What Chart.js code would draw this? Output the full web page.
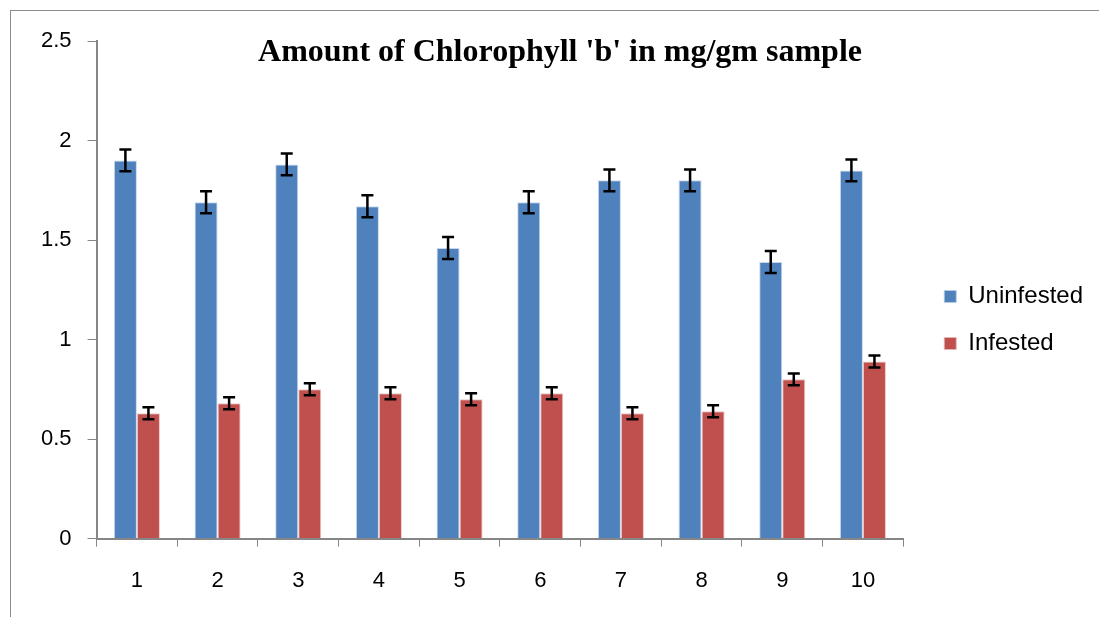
<!DOCTYPE html>
<html>
<head>
<meta charset="utf-8">
<script src="https://cdn.jsdelivr.net/npm/chart.js@4.4.1/dist/chart.umd.min.js"></script>
<style>
  html, body { margin: 0; padding: 0; background: #fff; }
  #wrap { width: 1099px; height: 617px; position: relative; }
</style>
</head>
<body>
<div id="wrap"><canvas id="chart" width="1099" height="617"></canvas></div>
<script>
// chart data
const categories = ['1', '2', '3', '4', '5', '6', '7', '8', '9', '10'];
const uninfested = [1.90, 1.69, 1.88, 1.67, 1.46, 1.69, 1.80, 1.80, 1.39, 1.85];
const infested = [0.63, 0.68, 0.75, 0.73, 0.70, 0.73, 0.63, 0.64, 0.80, 0.89];
const uninfestedErr = [0.055, 0.055, 0.055, 0.055, 0.055, 0.055, 0.055, 0.055, 0.055, 0.055];
const infestedErr = [0.03, 0.03, 0.03, 0.03, 0.03, 0.03, 0.03, 0.03, 0.03, 0.03];
const yTicks = [0, 0.5, 1, 1.5, 2, 2.5];

const AXIS_GRAY = '#868686';
const SANS = '"Liberation Sans", Arial, sans-serif';

// outer frame of the chart object
const framePlugin = {
    id: 'frame',
    beforeDraw(chart) {
        const ctx = chart.ctx;
        ctx.save();
        ctx.fillStyle = '#fff';
        ctx.fillRect(0, 0, chart.width, chart.height);
        ctx.strokeStyle = '#8c8c8c';
        ctx.lineWidth = 1;
        ctx.strokeRect(10.5, 10.5, chart.width + 50, chart.height + 50);
        ctx.restore();
    }
};

// push the legend a bit away from the plot, like Excel does
const legendGapPlugin = {
    id: 'legendGap',
    afterLayout(chart) {
        const lg = chart.legend;
        if (!lg) return;
        lg.left += 18;
        lg.right += 18;
        lg.top -= 8;
        lg.bottom -= 8;
    }
};

// error bars drawn from the bar elements and the y scale
const errorBarPlugin = {
    id: 'errorBars',
    afterDatasetsDraw(chart) {
        const ctx = chart.ctx;
        const yScale = chart.scales.y;
        ctx.save();
        ctx.strokeStyle = '#000';
        ctx.lineWidth = 2.5;
        chart.data.datasets.forEach((ds, di) => {
            const meta = chart.getDatasetMeta(di);
            meta.data.forEach((bar, i) => {
                const v = ds.data[i];
                const e = ds.errors[i];
                const yTop = yScale.getPixelForValue(v + e);
                const yBot = yScale.getPixelForValue(v - e);
                const cap = 6;
                ctx.beginPath();
                ctx.moveTo(bar.x, yTop);
                ctx.lineTo(bar.x, yBot);
                ctx.moveTo(bar.x - cap, yTop);
                ctx.lineTo(bar.x + cap, yTop);
                ctx.moveTo(bar.x - cap, yBot);
                ctx.lineTo(bar.x + cap, yBot);
                ctx.stroke();
            });
        });
        ctx.restore();
    }
};

// title sits inside the plot area, as in the original
const titlePlugin = {
    id: 'innerTitle',
    afterDraw(chart) {
        const ctx = chart.ctx;
        ctx.save();
        ctx.font = 'bold 32px "Liberation Serif", "Times New Roman", serif';
        ctx.fillStyle = '#000';
        ctx.textAlign = 'center';
        ctx.textBaseline = 'middle';
        ctx.fillText("Amount of Chlorophyll 'b' in mg/gm sample", 560, 53);
        ctx.restore();
    }
};

const ctx = document.getElementById('chart').getContext('2d');
new Chart(ctx, {
    type: 'bar',
    data: {
        labels: categories,
        datasets: [
            {
                label: 'Uninfested',
                data: uninfested,
                errors: uninfestedErr,
                backgroundColor: '#4F81BD',
                borderColor: 'rgba(185,205,229,0.8)',
                borderWidth: 1,
                categoryPercentage: 0.571,
                barPercentage: 1
            },
            {
                label: 'Infested',
                data: infested,
                errors: infestedErr,
                backgroundColor: '#C0504D',
                borderColor: 'rgba(230,185,184,0.8)',
                borderWidth: 1,
                categoryPercentage: 0.571,
                barPercentage: 1
            }
        ]
    },
    options: {
        responsive: false,
        animation: false,
        layout: {
            padding: { left: 25, top: 41, right: 24, bottom: 2 }
        },
        plugins: {
            title: { display: false },
            tooltip: { enabled: false },
            legend: {
                position: 'right',
                labels: {
                    boxWidth: 12,
                    boxHeight: 12,
                    padding: 23,
                    color: '#000',
                    font: { family: SANS, size: 24 }
                }
            }
        },
        scales: {
            x: {
                grid: {
                    display: true,
                    drawOnChartArea: false,
                    drawTicks: true,
                    tickLength: 8,
                    color: AXIS_GRAY,
                    offset: true
                },
                border: { color: AXIS_GRAY, width: 2 },
                ticks: {
                    color: '#000',
                    padding: 21,
                    font: { family: SANS, size: 22 }
                }
            },
            y: {
                min: 0,
                max: 2.5,
                afterBuildTicks(scale) {
                    scale.ticks = yTicks.map(v => ({ value: v }));
                },
                grid: {
                    display: true,
                    drawOnChartArea: false,
                    drawTicks: true,
                    tickLength: 9,
                    color: AXIS_GRAY
                },
                border: { color: AXIS_GRAY, width: 2 },
                ticks: {
                    color: '#000',
                    padding: 16,
                    font: { family: SANS, size: 22 },
                    callback: v => String(v)
                }
            }
        }
    },
    plugins: [framePlugin, legendGapPlugin, errorBarPlugin, titlePlugin]
});
</script>
</body>
</html>
